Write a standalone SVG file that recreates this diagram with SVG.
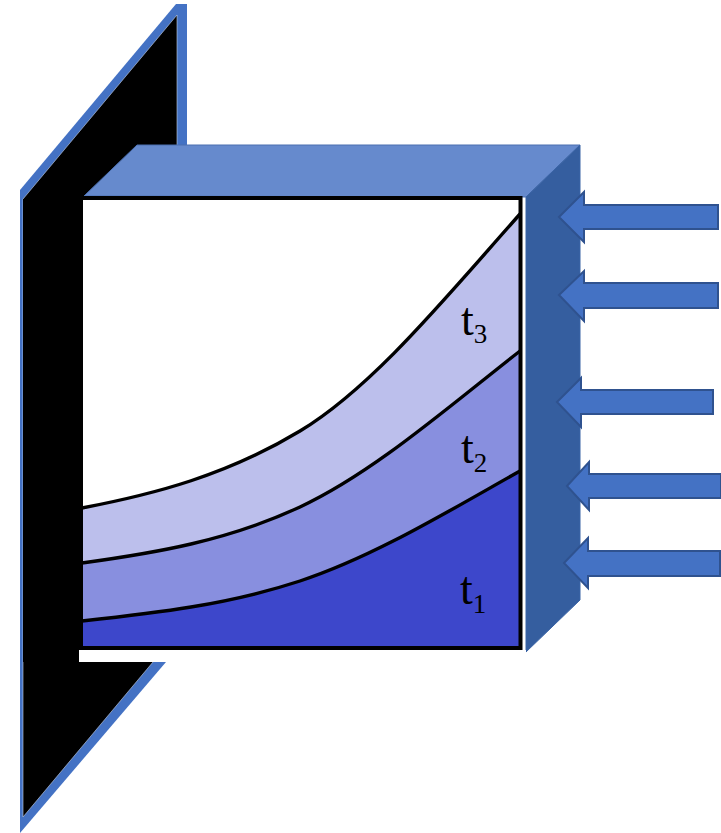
<svg xmlns="http://www.w3.org/2000/svg" width="721" height="833" viewBox="0 0 721 833">
<style>
.arrow{fill:#4472C4;stroke:#2F528F;stroke-width:2}
.curve{fill:none;stroke:#000;stroke-width:3.400}
.lbl{font-family:"Liberation Serif",serif;font-size:46px;fill:#000}
.sub{font-size:27px}
</style>
<defs>
<path id="c3" d="M82,508C155,494 227,475 300,431C373,387 447,296 520,214"/>
<path id="c2" d="M82,563C155,553 227,541 300,507C373,473 447,408 520,351"/>
<path id="c1" d="M82,621C155,613 227,605 300,581C373,557 447,512 520,471"/>
</defs>
<rect width="721" height="833" fill="#fff"/>
<g id="plate">
<polygon points="20,190 176,4 187,4 187,150 180,640 166,662 20,833" fill="#4472C4"/>
<polygon points="23,199 177,15 177,150 160,640 153,662 23,817" fill="#000" stroke="#C8D4E8" stroke-width="0.600"/>
<rect x="23" y="199" width="130" height="463" fill="#000"/>
</g>
<g id="box-top"><polygon points="84,196 137,145 580,145 526,197" fill="#668ACD" stroke="#4A6FB0" stroke-width="1"/></g>
<g id="box-side"><polygon points="526,197 580,145 580,600 526,652" fill="#355E9F" stroke="#3A64A6" stroke-width="1"/></g>
<g id="box-front">
<rect x="79" y="650" width="447" height="12" fill="#fff"/>
<rect x="166" y="650" width="360" height="30" fill="#fff"/>
<rect x="82" y="198.500" width="438" height="449.500" fill="#fff"/>
<path d="M82,508C155,494 227,475 300,431C373,387 447,296 520,214V648H82Z" fill="#BCBFEC"/>
<path d="M82,563C155,553 227,541 300,507C373,473 447,408 520,351V648H82Z" fill="#888FDF"/>
<path d="M82,621C155,613 227,605 300,581C373,557 447,512 520,471V648H82Z" fill="#3D47CB"/>
<use href="#c3" class="curve"/>
<use href="#c2" class="curve"/>
<use href="#c1" class="curve"/>
<rect x="81" y="198" width="439.500" height="450" fill="none" stroke="#000" stroke-width="4"/>
</g>
<g id="label-t3"><text class="lbl" x="461" y="335">t<tspan class="sub" dy="8">3</tspan></text></g>
<g id="label-t2"><text class="lbl" x="461" y="463">t<tspan class="sub" dy="9">2</tspan></text></g>
<g id="label-t1"><text class="lbl" x="460" y="604">t<tspan class="sub" dy="9">1</tspan></text></g>
<g id="connectors">
<polygon class="arrow" points="559,217 584,192 584,205 718,205 718,229 584,229 584,242"/>
<polygon class="arrow" points="559,295 584,271 584,283 718,283 718,308 584,308 584,321"/>
<polygon class="arrow" points="557,402 581,378 581,390 713,390 713,414 581,414 581,427"/>
<polygon class="arrow" points="567,486 589,462 589,474 721,474 721,498 589,498 589,510"/>
<polygon class="arrow" points="564,563 588,538 588,551 720,551 720,576 588,576 588,588"/>
</g>
</svg>
